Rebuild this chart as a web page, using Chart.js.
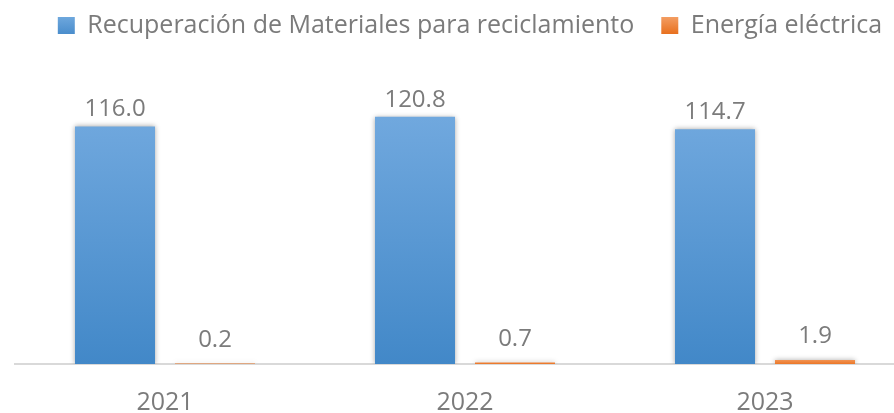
<!DOCTYPE html>
<html>
<head>
<meta charset="utf-8">
<script src="https://cdn.jsdelivr.net/npm/chart.js@4.4.0/dist/chart.umd.min.js"></script>
<style>
  html, body { margin: 0; padding: 0; background: #ffffff; overflow: hidden; }
  #wrap { position: relative; width: 894px; height: 413px; overflow: hidden; }
  #box { position: absolute; left: 0; top: 0; width: 930px; height: 434px; }
</style>
</head>
<body>
<div id="wrap"><div id="box"><canvas id="c"></canvas></div></div>
<script>
const categories = ['2021', '2022', '2023'];
const seriesNames = ['Recuperación de Materiales para reciclamiento', 'Energía eléctrica'];
const recuperacion = [116.0, 120.8, 114.7];
const energia = [0.2, 0.7, 1.9];

const FONT = "'Open Sans', 'Noto Sans', sans-serif";
const GRAY = '#7b7b7b';

function vGrad(ctx, y0, y1, c0, c1) {
  const g = ctx.createLinearGradient(0, y0, 0, y1);
  g.addColorStop(0, c0);
  g.addColorStop(1, c1);
  return g;
}

function blueFill(context) {
  const chart = context.chart;
  const area = chart.chartArea;
  if (!area) return '#5B9BD5';
  return vGrad(chart.ctx, 118, area.bottom, '#70A8DE', '#4288C8');
}
function orangeFill(context) {
  const chart = context.chart;
  const area = chart.chartArea;
  if (!area) return '#ED7D31';
  return vGrad(chart.ctx, area.bottom - 5, area.bottom, '#F39A5E', '#EB7728');
}

const labelOffsets = [10, 17];

const barPlugin = {
  id: 'barDeco',
  afterLayout(chart) {
    const lg = chart.legend;
    if (lg) {
      lg.left += 5; lg.right += 5;
      lg.top -= 14; lg.bottom -= 14;
    }
  },
  beforeDatasetsDraw(chart) {
    const ctx = chart.ctx;
    ctx.save();
    ctx.shadowColor = 'rgba(0,0,0,0.35)';
    ctx.shadowBlur = 5;
    ctx.shadowOffsetX = 0;
    ctx.shadowOffsetY = 0;
  },
  afterDatasetsDraw(chart) {
    const ctx = chart.ctx;
    ctx.restore();
    ctx.save();
    ctx.font = '24px ' + FONT;
    ctx.fillStyle = GRAY;
    ctx.textAlign = 'center';
    ctx.textBaseline = 'alphabetic';
    chart.data.datasets.forEach((ds, di) => {
      const meta = chart.getDatasetMeta(di);
      meta.data.forEach((el, i) => {
        const v = ds.data[i];
        ctx.fillText(v.toFixed(1), el.x, el.y - labelOffsets[di]);
      });
    });
    ctx.restore();
  }
};

new Chart(document.getElementById('c'), {
  type: 'bar',
  data: {
    labels: categories,
    datasets: [
      { label: seriesNames[0], data: recuperacion, backgroundColor: blueFill, borderWidth: 0 },
      { label: seriesNames[1], data: energia, backgroundColor: orangeFill, borderWidth: 0 }
    ]
  },
  options: {
    responsive: true,
    maintainAspectRatio: false,
    animation: false,
    categoryPercentage: 2 / 3,
    barPercentage: 0.8,
    layout: { padding: { left: 15, right: 15, top: 0, bottom: 0 } },
    plugins: {
      tooltip: { enabled: false },
      legend: {
        display: true,
        position: 'top',
        labels: {
          font: { family: FONT, size: 25 },
          color: GRAY,
          boxWidth: 17,
          boxHeight: 17,
          padding: 27,
          generateLabels(chart) {
            const ctx = chart.ctx;
            return [
              { text: seriesNames[0], fillStyle: vGrad(ctx, 14, 34, '#74ACE0', '#4A8DCC'), strokeStyle: 'rgba(0,0,0,0)', lineWidth: 0, datasetIndex: 0, fontColor: GRAY },
              { text: seriesNames[1], fillStyle: vGrad(ctx, 14, 34, '#F5A56E', '#E8701E'), strokeStyle: 'rgba(0,0,0,0)', lineWidth: 0, datasetIndex: 1, fontColor: GRAY }
            ];
          }
        }
      }
    },
    scales: {
      x: {
        grid: { display: false },
        border: { display: true, color: '#D9D9D9', width: 2 },
        ticks: { color: GRAY, font: { family: FONT, size: 25 }, padding: 16 }
      },
      y: {
        display: false,
        min: 0,
        max: 147.5
      }
    }
  },
  plugins: [barPlugin]
});
</script>
</body>
</html>
